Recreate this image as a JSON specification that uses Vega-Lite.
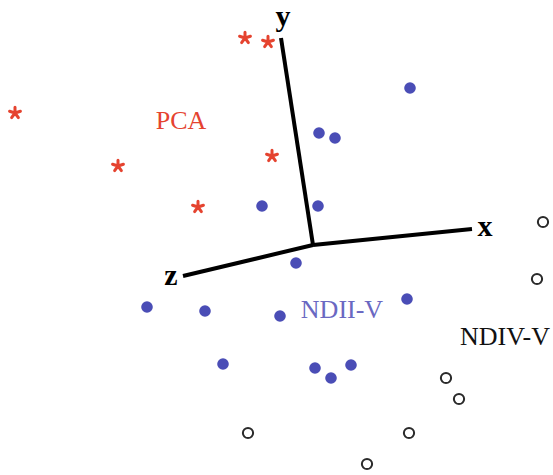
{
  "$schema": "https://vega.github.io/schema/vega-lite/v6.json",
  "width": 553,
  "height": 475,
  "autosize": {"type": "none"},
  "padding": 0,
  "background": "white",
  "config": {"view": {"stroke": null}},
  "datasets": {
    "points": [
      {"group": "PCA", "x": 245, "y": 38},
      {"group": "PCA", "x": 268, "y": 42},
      {"group": "PCA", "x": 15, "y": 113},
      {"group": "PCA", "x": 118, "y": 166},
      {"group": "PCA", "x": 272, "y": 156},
      {"group": "PCA", "x": 198, "y": 207},
      {"group": "NDII-V", "x": 410, "y": 88},
      {"group": "NDII-V", "x": 319, "y": 133},
      {"group": "NDII-V", "x": 335, "y": 138},
      {"group": "NDII-V", "x": 262, "y": 206},
      {"group": "NDII-V", "x": 318, "y": 206},
      {"group": "NDII-V", "x": 296, "y": 263},
      {"group": "NDII-V", "x": 147, "y": 307},
      {"group": "NDII-V", "x": 205, "y": 311},
      {"group": "NDII-V", "x": 280, "y": 316},
      {"group": "NDII-V", "x": 407, "y": 299},
      {"group": "NDII-V", "x": 223, "y": 364},
      {"group": "NDII-V", "x": 315, "y": 368},
      {"group": "NDII-V", "x": 331, "y": 378},
      {"group": "NDII-V", "x": 351, "y": 365},
      {"group": "NDIV-V", "x": 543, "y": 222},
      {"group": "NDIV-V", "x": 537, "y": 279},
      {"group": "NDIV-V", "x": 446, "y": 378},
      {"group": "NDIV-V", "x": 459, "y": 399},
      {"group": "NDIV-V", "x": 248, "y": 433},
      {"group": "NDIV-V", "x": 409, "y": 433},
      {"group": "NDIV-V", "x": 367, "y": 464}
    ],
    "axes": [
      {"axis": "x", "order": 0, "x": 313, "y": 245},
      {"axis": "x", "order": 1, "x": 472, "y": 229},
      {"axis": "y", "order": 0, "x": 313, "y": 245},
      {"axis": "y", "order": 1, "x": 281, "y": 38},
      {"axis": "z", "order": 0, "x": 313, "y": 245},
      {"axis": "z", "order": 1, "x": 183, "y": 276}
    ],
    "axislabels": [
      {"label": "x", "x": 485, "y": 227},
      {"label": "y", "x": 283, "y": 17},
      {"label": "z", "x": 171, "y": 276}
    ],
    "grouplabels": [
      {"group": "PCA", "label": "PCA", "x": 181, "y": 121},
      {"group": "NDII-V", "label": "NDII-V", "x": 342, "y": 310},
      {"group": "NDIV-V", "label": "NDIV-V", "x": 505, "y": 337}
    ]
  },
  "resolve": {"scale": {"x": "shared", "y": "shared"}},
  "layer": [
    {
      "data": {"name": "axes"},
      "mark": {"type": "line", "color": "black", "strokeWidth": 4, "strokeCap": "butt"},
      "encoding": {
        "x": {"field": "x", "type": "quantitative", "scale": {"domain": [0, 553], "nice": false, "zero": false}, "axis": null},
        "y": {"field": "y", "type": "quantitative", "scale": {"domain": [475, 0], "nice": false, "zero": false}, "axis": null},
        "detail": {"field": "axis"},
        "order": {"field": "order"}
      }
    },
    {
      "data": {"name": "points"},
      "transform": [{"filter": "datum.group === 'PCA'"}],
      "mark": {"type": "point", "shape": "M0,0L0,-1M0,0L0.95,-0.31M0,0L0.59,0.81M0,0L-0.59,0.81M0,0L-0.95,-0.31", "filled": false, "color": "#e5432f", "strokeWidth": 3, "strokeCap": "round", "size": 130, "opacity": 1},
      "encoding": {
        "x": {"field": "x", "type": "quantitative"},
        "y": {"field": "y", "type": "quantitative"}
      }
    },
    {
      "data": {"name": "points"},
      "transform": [{"filter": "datum.group === 'NDII-V'"}],
      "mark": {"type": "circle", "color": "#4a4db6", "size": 135, "opacity": 1},
      "encoding": {
        "x": {"field": "x", "type": "quantitative"},
        "y": {"field": "y", "type": "quantitative"}
      }
    },
    {
      "data": {"name": "points"},
      "transform": [{"filter": "datum.group === 'NDIV-V'"}],
      "mark": {"type": "point", "shape": "circle", "filled": false, "color": "#2a2a2a", "strokeWidth": 2, "size": 105, "opacity": 1},
      "encoding": {
        "x": {"field": "x", "type": "quantitative"},
        "y": {"field": "y", "type": "quantitative"}
      }
    },
    {
      "data": {"name": "axislabels"},
      "mark": {"type": "text", "font": "Liberation Serif", "fontWeight": "bold", "fontSize": 30, "color": "black", "align": "center", "baseline": "middle"},
      "encoding": {
        "x": {"field": "x", "type": "quantitative"},
        "y": {"field": "y", "type": "quantitative"},
        "text": {"field": "label"}
      }
    },
    {
      "data": {"name": "grouplabels"},
      "mark": {"type": "text", "font": "Liberation Serif", "fontSize": 26, "align": "center", "baseline": "middle"},
      "encoding": {
        "x": {"field": "x", "type": "quantitative"},
        "y": {"field": "y", "type": "quantitative"},
        "text": {"field": "label"},
        "color": {"field": "group", "type": "nominal", "scale": {"domain": ["PCA", "NDII-V", "NDIV-V"], "range": ["#e5432f", "#6a68c2", "#111111"]}, "legend": null}
      }
    }
  ]
}
